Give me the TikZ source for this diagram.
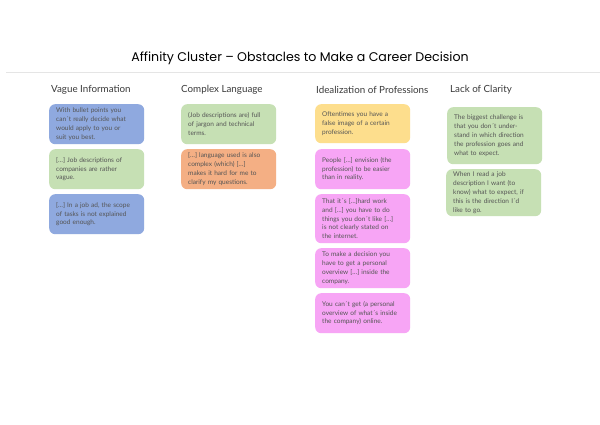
\documentclass[tikz,border=0pt]{standalone}
\usepackage{fontspec}
\setmainfont{Lato}
\newfontfamily\titlefont{Poppins}

\definecolor{cardblue}{HTML}{8FA9DF}
\definecolor{cardgreen}{HTML}{C6E0B4}
\definecolor{cardorange}{HTML}{F4AF84}
\definecolor{cardyellow}{HTML}{FDDE8D}
\definecolor{cardpink}{HTML}{F7A5F5}
\definecolor{cardtext}{HTML}{555555}
\definecolor{headtext}{HTML}{3A3A3A}

\begin{document}
\begin{tikzpicture}[x=1pt, y=-1pt]

    \tikzset{card/.style={%
      anchor=north west,%
      rectangle,%
      rounded corners=6pt,%
      text width=81pt,%
      inner xsep=7pt,%
      inner ysep=0pt,%
      align=left,%
      text=cardtext,%
      font=\fontsize{6.5}{8.8}\selectfont}%
    };

    \tikzset{heading/.style={anchor=west, inner sep=0pt, text=headtext,
      font=\fontsize{9.8}{11}\selectfont}};

    \useasboundingbox [fill=white] (0,0) rectangle (600,424);

    %%%%%%%%%%%%%%%
    %   title     %
    %%%%%%%%%%%%%%%
    \node [inner sep=0pt, font=\titlefont\fontsize{12.6}{15}\selectfont] (ttl) at (300,58)
      {Affinity Cluster – Obstacles to Make a Career Decision};
    \draw [black!10, line width=0.8pt] (6,72) -- (600,72);

    %%%%%%%%%%%%%%%
    %  headings   %
    %%%%%%%%%%%%%%%
    \node [heading] (hvg) at (51,90) {Vague Information};
    \node [heading] (hcl) at (181,90) {Complex Language};
    \node [heading] (hid) at (316,90) {Idealization of Professions};
    \node [heading] (hlc) at (450,90) {Lack of Clarity};

    %%%%%%%%%%%%%%%
    %   vague     %
    %%%%%%%%%%%%%%%
    \node [card, fill=cardblue, minimum height=40pt] (vg1) at (49,104)
      {With bullet points you\\can´t really decide what\\would apply to you or\\suit you best.};
    \node [card, fill=cardgreen, minimum height=40pt] (vg2) at (49,149)
      {[…] Job descriptions of\\companies are rather\\vague.};
    \node [card, fill=cardblue, minimum height=40pt] (vg3) at (49,194)
      {[…] In a job ad, the scope\\of tasks is not explained\\good enough.};

    %%%%%%%%%%%%%%%
    %  language   %
    %%%%%%%%%%%%%%%
    \node [card, fill=cardgreen, minimum height=40pt] (cl1) at (181,104)
      {(Job descriptions are) full\\of jargon and technical\\terms.};
    \node [card, fill=cardorange, minimum height=40pt] (cl2) at (181,149)
      {[…] language used is also\\complex (which) […]\\makes it hard for me to\\clarify my questions.};

    %%%%%%%%%%%%%%%
    % idealizing  %
    %%%%%%%%%%%%%%%
    \node [card, fill=cardyellow, minimum height=39pt] (id1) at (315,104)
      {Oftentimes you have a\\false image of a certain\\profession.};
    \node [card, fill=cardpink, minimum height=40pt] (id2) at (315,149)
      {People […] envision (the\\profession) to be easier\\than in reality.};
    \node [card, fill=cardpink, minimum height=49pt] (id3) at (315,194)
      {That it´s […]hard work\\and […] you have to do\\things you don´t like […]\\is not clearly stated on\\the internet.};
    \node [card, fill=cardpink, minimum height=40pt] (id4) at (315,248)
      {To make a decision you\\have to get a personal\\overview […] inside the\\company.};
    \node [card, fill=cardpink, minimum height=40pt] (id5) at (315,293)
      {You can´t get (a personal\\overview of what´s inside\\the company) online.};

    %%%%%%%%%%%%%%%
    %  clarity    %
    %%%%%%%%%%%%%%%
    \node [card, fill=cardgreen, minimum height=57pt] (lc1) at (447,107)
      {The biggest challenge is\\that you don´t under-\\stand in which direction\\the profession goes and\\what to expect.};
    \node [card, fill=cardgreen, minimum height=47pt] (lc2) at (446,169)
      {When I read a job\\description I want (to\\know) what to expect, if\\this is the direction I´d\\like to go.};

  \end{tikzpicture}
\end{document}
